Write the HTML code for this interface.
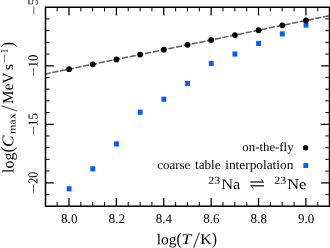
<!DOCTYPE html>
<html lang="en"><head><meta charset="utf-8"><title>plot</title>
<style>html,body{margin:0;padding:0;background:#fff;overflow:hidden}svg{display:block}text{font-family:"Liberation Serif",serif}</style></head><body>
<svg width="330" height="248" viewBox="0 0 330 248">
<rect width="330" height="248" fill="#fff"/>
<line x1="45.5" y1="73.98" x2="329.5" y2="15.65" stroke="#5e5e5e" stroke-width="1.5" stroke-dasharray="6.2 1.7" stroke-dashoffset="1.0"/>
<rect x="66.65" y="186.20" width="4.9" height="5.15" fill="#0a5cff"/>
<rect x="90.34" y="166.25" width="4.9" height="5.15" fill="#0a5cff"/>
<rect x="114.03" y="141.35" width="4.9" height="5.15" fill="#0a5cff"/>
<rect x="137.72" y="109.65" width="4.9" height="5.15" fill="#0a5cff"/>
<rect x="161.41" y="96.65" width="4.9" height="5.15" fill="#0a5cff"/>
<rect x="185.10" y="80.85" width="4.9" height="5.15" fill="#0a5cff"/>
<rect x="208.79" y="60.85" width="4.9" height="5.15" fill="#0a5cff"/>
<rect x="232.48" y="51.45" width="4.9" height="5.15" fill="#0a5cff"/>
<rect x="256.17" y="40.85" width="4.9" height="5.15" fill="#0a5cff"/>
<rect x="279.86" y="31.35" width="4.9" height="5.15" fill="#0a5cff"/>
<rect x="303.55" y="22.55" width="4.9" height="5.15" fill="#0a5cff"/>
<circle cx="69.10" cy="69.15" r="2.9" fill="#000"/>
<circle cx="92.79" cy="64.29" r="2.9" fill="#000"/>
<circle cx="116.48" cy="59.42" r="2.9" fill="#000"/>
<circle cx="140.17" cy="54.55" r="2.9" fill="#000"/>
<circle cx="163.86" cy="49.69" r="2.9" fill="#000"/>
<circle cx="187.55" cy="44.83" r="2.9" fill="#000"/>
<circle cx="211.24" cy="39.96" r="2.9" fill="#000"/>
<circle cx="234.93" cy="35.10" r="2.9" fill="#000"/>
<circle cx="258.62" cy="30.23" r="2.9" fill="#000"/>
<circle cx="282.31" cy="25.36" r="2.9" fill="#000"/>
<circle cx="306.00" cy="20.50" r="2.9" fill="#000"/>
<path d="M69.00 206.2v-8.3M69.00 7.25v8.3M116.38 206.2v-8.3M116.38 7.25v8.3M163.76 206.2v-8.3M163.76 7.25v8.3M211.14 206.2v-8.3M211.14 7.25v8.3M258.52 206.2v-8.3M258.52 7.25v8.3M305.90 206.2v-8.3M305.90 7.25v8.3M45.5 182.75h8.3M329.5 182.75h-8.3M45.5 124.25h8.3M329.5 124.25h-8.3M45.5 65.75h8.3M329.5 65.75h-8.3" stroke="#000" stroke-width="1.25" fill="none"/>
<path d="M57.16 206.2v-4.2M57.16 7.25v4.2M80.85 206.2v-4.2M80.85 7.25v4.2M92.69 206.2v-4.2M92.69 7.25v4.2M104.54 206.2v-4.2M104.54 7.25v4.2M128.22 206.2v-4.2M128.22 7.25v4.2M140.07 206.2v-4.2M140.07 7.25v4.2M151.91 206.2v-4.2M151.91 7.25v4.2M175.61 206.2v-4.2M175.61 7.25v4.2M187.45 206.2v-4.2M187.45 7.25v4.2M199.30 206.2v-4.2M199.30 7.25v4.2M222.99 206.2v-4.2M222.99 7.25v4.2M234.83 206.2v-4.2M234.83 7.25v4.2M246.68 206.2v-4.2M246.68 7.25v4.2M270.36 206.2v-4.2M270.36 7.25v4.2M282.21 206.2v-4.2M282.21 7.25v4.2M294.06 206.2v-4.2M294.06 7.25v4.2M317.75 206.2v-4.2M317.75 7.25v4.2M45.5 194.45h4.2M329.5 194.45h-4.2M45.5 171.05h4.2M329.5 171.05h-4.2M45.5 159.35h4.2M329.5 159.35h-4.2M45.5 147.65h4.2M329.5 147.65h-4.2M45.5 135.95h4.2M329.5 135.95h-4.2M45.5 112.55h4.2M329.5 112.55h-4.2M45.5 100.85h4.2M329.5 100.85h-4.2M45.5 89.15h4.2M329.5 89.15h-4.2M45.5 77.45h4.2M329.5 77.45h-4.2M45.5 54.05h4.2M329.5 54.05h-4.2M45.5 42.35h4.2M329.5 42.35h-4.2M45.5 30.65h4.2M329.5 30.65h-4.2M45.5 18.95h4.2M329.5 18.95h-4.2" stroke="#000" stroke-width="1.0" fill="none"/>
<rect x="45.5" y="7.25" width="284.0" height="198.95" fill="none" stroke="#000" stroke-width="1.5"/>
<circle cx="305.6" cy="147.7" r="2.7" fill="#000"/>
<rect x="303.35" y="163.1" width="4.9" height="4.9" fill="#0a5cff"/>
<text transform="translate(61.08 222.87) rotate(0.05) scale(1.046 1.051)" font-size="12.5">8.0</text>
<text transform="translate(108.45 222.87) rotate(0.05) scale(1.064 1.051)" font-size="12.5">8.2</text>
<text transform="translate(155.85 222.87) rotate(0.05) scale(1.029 1.051)" font-size="12.5">8.4</text>
<text transform="translate(203.22 222.87) rotate(0.05) scale(1.037 1.051)" font-size="12.5">8.6</text>
<text transform="translate(250.60 222.87) rotate(0.05) scale(1.046 1.051)" font-size="12.5">8.8</text>
<text transform="translate(298.11 222.87) rotate(0.05) scale(1.037 1.051)" font-size="12.5">9.0</text>
<text transform="translate(37.69 76.44) rotate(-89.95) scale(1.336 1.000)" font-size="12.5">−</text>
<text transform="translate(37.46 67.40) rotate(-89.95) scale(1.021 1.099)" font-size="12.5">10</text>
<text transform="translate(37.69 134.94) rotate(-89.95) scale(1.336 1.000)" font-size="12.5">−</text>
<text transform="translate(37.46 125.90) rotate(-89.95) scale(1.021 1.099)" font-size="12.5">15</text>
<text transform="translate(37.69 193.44) rotate(-89.95) scale(1.336 1.000)" font-size="12.5">−</text>
<text transform="translate(37.46 183.73) rotate(-89.95) scale(0.965 1.099)" font-size="12.5">20</text>
<text transform="translate(37.99 14.93) rotate(-89.95) scale(1.328 1.000)" font-size="12.5">−</text>
<text transform="translate(37.46 5.50) rotate(-89.95) scale(1.200 1.115)" font-size="12.5">5</text>
<text transform="translate(156.84 244.16) rotate(0.05) scale(1.026 0.998)" font-size="15">log</text>
<text transform="translate(176.57 244.28) rotate(0.05) scale(1.006 1.126)" font-size="15">(</text>
<text transform="translate(181.52 244.10) rotate(0.05) scale(1.176 1.005)" font-size="15" font-style="italic">T</text>
<text transform="translate(193.10 247.61) rotate(0.05) scale(1.673 1.520)" font-size="15" fill="#3a3a3a">/</text>
<text transform="translate(200.21 244.10) rotate(0.05) scale(1.044 1.005)" font-size="15">K</text>
<text transform="translate(212.00 244.28) rotate(0.05) scale(1.006 1.126)" font-size="15">)</text>
<text transform="translate(13.52 172.97) rotate(-89.95) scale(1.063 1.072)" font-size="15">log</text>
<text transform="translate(13.22 152.51) rotate(-89.95) scale(1.135 1.178)" font-size="15">(</text>
<text transform="translate(13.26 147.01) rotate(-89.95) scale(1.157 1.090)" font-size="15" font-style="italic">C</text>
<text transform="translate(15.38 134.09) rotate(-89.95) scale(1.152 0.980)" font-size="10.5">max</text>
<text transform="translate(16.81 111.60) rotate(-89.95) scale(1.527 1.550)" font-size="15" fill="#3a3a3a">/</text>
<text transform="translate(12.94 103.88) rotate(-89.95) scale(1.015 1.040)" font-size="15">MeV</text>
<text transform="translate(13.08 70.18) rotate(-89.95) scale(1.081 0.982)" font-size="15">s</text>
<text transform="translate(7.90 63.25) rotate(-89.95) scale(1.497 1.000)" font-size="10.5">−</text>
<text transform="translate(7.80 53.37) rotate(-89.95) scale(0.880 1.004)" font-size="10.5">1</text>
<text transform="translate(13.22 47.33) rotate(-89.95) scale(1.058 1.178)" font-size="15">)</text>
<text transform="translate(242.34 150.89) rotate(0.05) scale(1.025 0.993)" font-size="12.5">on-the-fly</text>
<text transform="translate(157.18 168.88) rotate(0.05) scale(1.039 1.000)" font-size="12.5">coarse</text>
<text transform="translate(194.97 168.87) rotate(0.05) scale(1.053 1.040)" font-size="12.5">table</text>
<text transform="translate(225.23 168.97) rotate(0.05) scale(1.068 1.040)" font-size="12.5">interpolation</text>
<text transform="translate(208.28 183.67) rotate(0.05) scale(1.132 1.014)" font-size="10.5">23</text>
<text transform="translate(221.19 189.08) rotate(0.05) scale(1.096 0.982)" font-size="15">Na</text>
<text transform="translate(249.03 189.03) rotate(0.05) scale(1.099 1.244)" font-size="15" style='font-family:"DejaVu Math TeX Gyre","DejaVu Sans",sans-serif' fill="#3a3a3a">⇌</text>
<text transform="translate(274.28 183.67) rotate(0.05) scale(1.132 1.014)" font-size="10.5">23</text>
<text transform="translate(287.19 189.08) rotate(0.05) scale(1.095 0.982)" font-size="15">Ne</text>
</svg></body></html>
